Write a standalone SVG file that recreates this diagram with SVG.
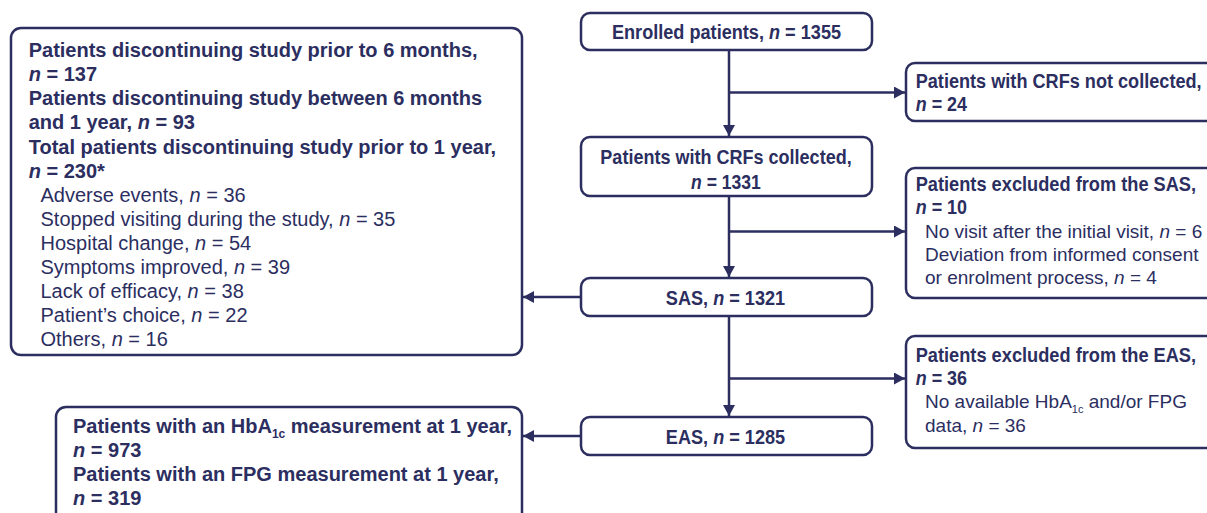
<svg xmlns="http://www.w3.org/2000/svg" width="1207" height="513" viewBox="0 0 1207 513">
<style>
  .box { fill: #ffffff; stroke: #2b2e5f; stroke-width: 2.5; }
  .conn { fill: none; stroke: #2b2e5f; stroke-width: 2.5; }
  text { font-family: "Liberation Sans", Arial, sans-serif; fill: #2b2e5f; }
  .b20 { font-size: 20px; font-weight: bold; }
  .r20 { font-size: 20px; }
  .bc { font-size: 19.5px; font-weight: bold; }
  .r19 { font-size: 19px; }
  .mid { text-anchor: middle; }
  .i { font-style: italic; }
</style>
<defs>
  <marker id="arr" markerUnits="userSpaceOnUse" markerWidth="12" markerHeight="12" refX="11" refY="6" orient="auto">
    <path d="M0,0 L11,6 L0,12 Z" fill="#2b2e5f"/>
  </marker>
</defs>
<rect width="1207" height="513" fill="#ffffff"/>

<g id="connectors">
  <line class="conn" x1="729" y1="50" x2="729" y2="136" marker-end="url(#arr)"/>
  <line class="conn" x1="729" y1="92.5" x2="905" y2="92.5" marker-end="url(#arr)"/>
  <line class="conn" x1="729" y1="196" x2="729" y2="277" marker-end="url(#arr)"/>
  <line class="conn" x1="729" y1="231.5" x2="905" y2="231.5" marker-end="url(#arr)"/>
  <line class="conn" x1="729" y1="316" x2="729" y2="416" marker-end="url(#arr)"/>
  <line class="conn" x1="729" y1="378.5" x2="905" y2="378.5" marker-end="url(#arr)"/>
  <line class="conn" x1="581" y1="297" x2="523" y2="297" marker-end="url(#arr)"/>
  <line class="conn" x1="581" y1="436" x2="523" y2="436" marker-end="url(#arr)"/>
</g>

<g id="discontinued">
  <rect class="box" x="11" y="28" width="511" height="327" rx="10"/>
  <text class="b20" x="28.7" y="57.2">Patients discontinuing study prior to 6 months,</text>
  <text class="b20" x="28.7" y="81.3"><tspan class="i">n</tspan> = 137</text>
  <text class="b20" x="28.7" y="105.4">Patients discontinuing study between 6 months</text>
  <text class="b20" x="28.7" y="129.4">and 1 year, <tspan class="i">n</tspan> = 93</text>
  <text class="b20" x="28.7" y="153.5">Total patients discontinuing study prior to 1 year,</text>
  <text class="b20" x="28.7" y="177.6"><tspan class="i">n</tspan> = 230*</text>
  <text class="r20" x="40.5" y="201.7">Adverse events, <tspan class="i">n</tspan> = 36</text>
  <text class="r20" x="40.5" y="225.8">Stopped visiting during the study, <tspan class="i">n</tspan> = 35</text>
  <text class="r20" x="40.5" y="249.8">Hospital change, <tspan class="i">n</tspan> = 54</text>
  <text class="r20" x="40.5" y="273.9">Symptoms improved, <tspan class="i">n</tspan> = 39</text>
  <text class="r20" x="40.5" y="298">Lack of efficacy, <tspan class="i">n</tspan> = 38</text>
  <text class="r20" x="40.5" y="322.1">Patient’s choice, <tspan class="i">n</tspan> = 22</text>
  <text class="r20" x="40.5" y="346.2">Others, <tspan class="i">n</tspan> = 16</text>
</g>

<g id="measurements">
  <rect class="box" x="56" y="407" width="466" height="120" rx="10"/>
  <text class="b20" x="73" y="433">Patients with an HbA<tspan dy="5" font-size="12">1c</tspan><tspan dy="-5"> measurement at 1 year,</tspan></text>
  <text class="b20" x="73" y="457"><tspan class="i">n</tspan> = 973</text>
  <text class="b20" x="73" y="481">Patients with an FPG measurement at 1 year,</text>
  <text class="b20" x="73" y="505"><tspan class="i">n</tspan> = 319</text>
</g>

<g id="enrolled">
  <rect class="box" x="581" y="13" width="291" height="37" rx="9"/>
  <text class="bc mid" transform="translate(726.5,38.5) scale(0.93,1)">Enrolled patients, <tspan class="i">n</tspan> = 1355</text>
</g>

<g id="crfs-collected">
  <rect class="box" x="581" y="137" width="291" height="59" rx="9"/>
  <text class="bc mid" transform="translate(726,164.3) scale(0.925,1)">Patients with CRFs collected,</text>
  <text class="bc mid" transform="translate(726,189) scale(0.9,1)"><tspan class="i">n</tspan> = 1331</text>
</g>

<g id="sas">
  <rect class="box" x="581" y="278" width="291" height="38" rx="9"/>
  <text class="bc mid" transform="translate(725.5,304.5) scale(0.93,1)">SAS, <tspan class="i">n</tspan> = 1321</text>
</g>

<g id="eas">
  <rect class="box" x="581" y="417" width="291" height="38" rx="9"/>
  <text class="bc mid" transform="translate(725.5,443.5) scale(0.93,1)">EAS, <tspan class="i">n</tspan> = 1285</text>
</g>

<g id="crfs-not-collected">
  <rect class="box" x="906" y="63" width="320" height="58" rx="9"/>
  <text class="bc" transform="translate(915.7,88) scale(0.93,1)">Patients with CRFs not collected,</text>
  <text class="bc" transform="translate(915.7,111) scale(0.92,1)"><tspan class="i">n</tspan> = 24</text>
</g>

<g id="excluded-sas">
  <rect class="box" x="906" y="168" width="320" height="130" rx="9"/>
  <text class="bc" transform="translate(915.7,191) scale(0.935,1)">Patients excluded from the SAS,</text>
  <text class="bc" transform="translate(915.7,214.3) scale(0.92,1)"><tspan class="i">n</tspan> = 10</text>
  <text class="r19" x="925" y="237.6">No visit after the initial visit, <tspan class="i">n</tspan> = 6</text>
  <text class="r19" x="925" y="261">Deviation from informed consent</text>
  <text class="r19" x="925" y="284.3">or enrolment process, <tspan class="i">n</tspan> = 4</text>
</g>

<g id="excluded-eas">
  <rect class="box" x="906" y="336" width="320" height="112" rx="9"/>
  <text class="bc" transform="translate(915.7,361.7) scale(0.935,1)">Patients excluded from the EAS,</text>
  <text class="bc" transform="translate(915.7,385) scale(0.92,1)"><tspan class="i">n</tspan> = 36</text>
  <text class="r19" x="925" y="408.3">No available HbA<tspan dy="5" font-size="11">1c</tspan><tspan dy="-5"> and/or FPG</tspan></text>
  <text class="r19" x="925" y="431.7">data, <tspan class="i">n</tspan> = 36</text>
</g>
</svg>
